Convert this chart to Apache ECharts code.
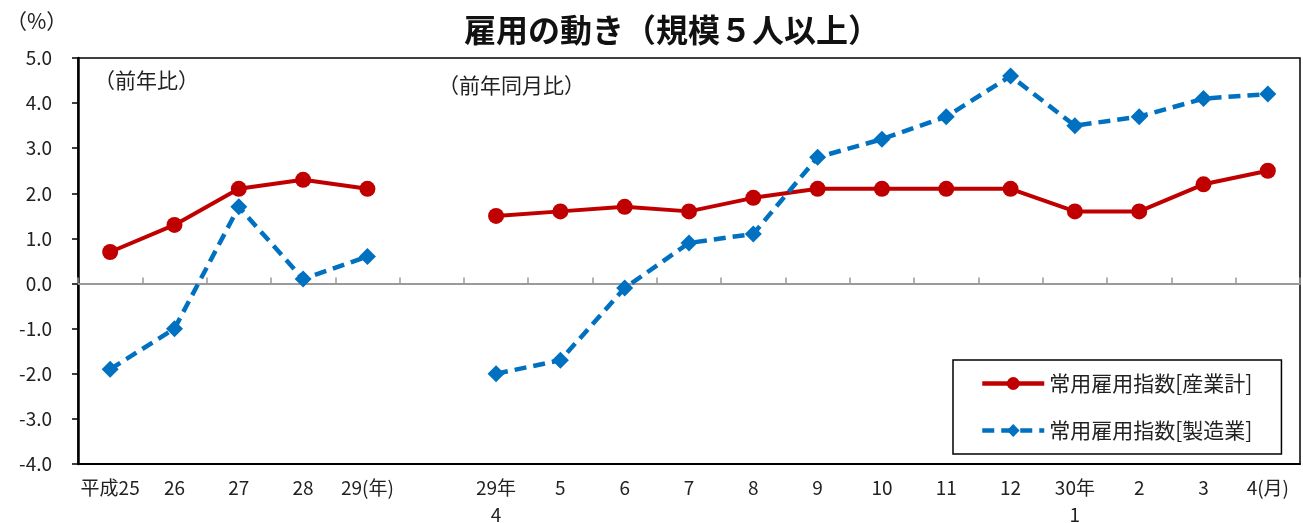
<!DOCTYPE html>
<html>
<head>
<meta charset="utf-8">
<script src="https://cdn.jsdelivr.net/npm/echarts@6/dist/echarts.min.js"></script>
<style>
html,body{margin:0;padding:0;background:#fff;}
#chart{width:1303px;height:523px;}
</style>
</head>
<body>
<div id="chart"></div>
<script>
const categories = ['平成25','26','27','28','29(年)','','29年\n4','5','6','7','8','9','10','11','12','30年\n1','2','3','4(月)'];
const seriesNames = ['常用雇用指数[産業計]','常用雇用指数[製造業]'];
const totalIndustry = [0.7,1.3,2.1,2.3,2.1,null,1.5,1.6,1.7,1.6,1.9,2.1,2.1,2.1,2.1,1.6,1.6,2.2,2.5];
const manufacturing = [-1.9,-1.0,1.7,0.1,0.6,null,-2.0,-1.7,-0.1,0.9,1.1,2.8,3.2,3.7,4.6,3.5,3.7,4.1,4.2];
const yTicks = {min:-4, max:5, interval:1};

const FONT = '"Noto Sans CJK JP","Noto Sans",sans-serif';
const chart = echarts.init(document.getElementById('chart'));
chart.setOption({
  animation:false,
  textStyle:{fontFamily:FONT,color:'#222'},
  title:{
    text:'雇用の動き（規模５人以上）',
    left:667, top:9, textAlign:'center',
    textStyle:{fontFamily:FONT,fontSize:32,fontWeight:'bold',color:'#111'}
  },
  grid:{left:78,right:3,top:58,bottom:59,show:true,borderColor:'#000',borderWidth:1.5,backgroundColor:'transparent',outerBoundsMode:'none',containLabel:false},
  legend:{
    orient:'vertical', left:953, top:360,
    padding:[13,29,13,27],
    itemWidth:62, itemHeight:16, itemGap:26,
    borderColor:'#000', borderWidth:1.5,
    lineStyle:{width:4.5},
    textStyle:{fontFamily:FONT,fontSize:21,lineHeight:20,color:'#222'},
    data:seriesNames
  },
  xAxis:[{
    type:'category', data:categories, position:'bottom',
    boundaryGap:true,
    axisLine:{show:true,onZero:false,lineStyle:{color:'#000',width:2}},
    axisTick:{show:false},
    axisLabel:{interval:0,margin:10,fontSize:19,lineHeight:27,color:'#222',fontFamily:FONT}
  },{
    type:'category', data:categories, position:'bottom',
    boundaryGap:true,
    axisLine:{show:true,onZero:true,lineStyle:{color:'#999',width:2}},
    axisTick:{show:true,inside:true,length:6,interval:0,lineStyle:{color:'#999',width:1.5}},
    axisLabel:{show:false}
  }],
  yAxis:{
    type:'value', min:yTicks.min, max:yTicks.max, interval:yTicks.interval,
    splitLine:{show:false},
    axisLine:{show:true,lineStyle:{color:'#000',width:2.5}},
    axisTick:{show:true,length:6,lineStyle:{color:'#000',width:1.5}},
    axisLabel:{margin:26,fontSize:19,color:'#222',fontFamily:FONT,formatter:v=>v.toFixed(1)}
  },
  graphic:[
    {type:'text',left:6,top:11,style:{text:'（%）',font:'21px '+FONT,fill:'#222'}},
    {type:'text',left:94,top:70,style:{text:'（前年比）',font:'21px '+FONT,fill:'#222'}},
    {type:'text',left:438,top:75,style:{text:'（前年同月比）',font:'21px '+FONT,fill:'#222'}}
  ],
  series:[{
    name:seriesNames[0], type:'line', data:totalIndustry, xAxisIndex:0,
    symbol:'circle', symbolSize:16, connectNulls:false,
    itemStyle:{color:'#C00000'},
    lineStyle:{color:'#C00000',width:4}
  },{
    name:seriesNames[1], type:'line', data:manufacturing, xAxisIndex:0,
    symbol:'diamond', symbolSize:17, connectNulls:false,
    itemStyle:{color:'#0070C0'},
    lineStyle:{color:'#0070C0',width:4.5,type:[12,7]}
  }]
});
</script>
</body>
</html>
